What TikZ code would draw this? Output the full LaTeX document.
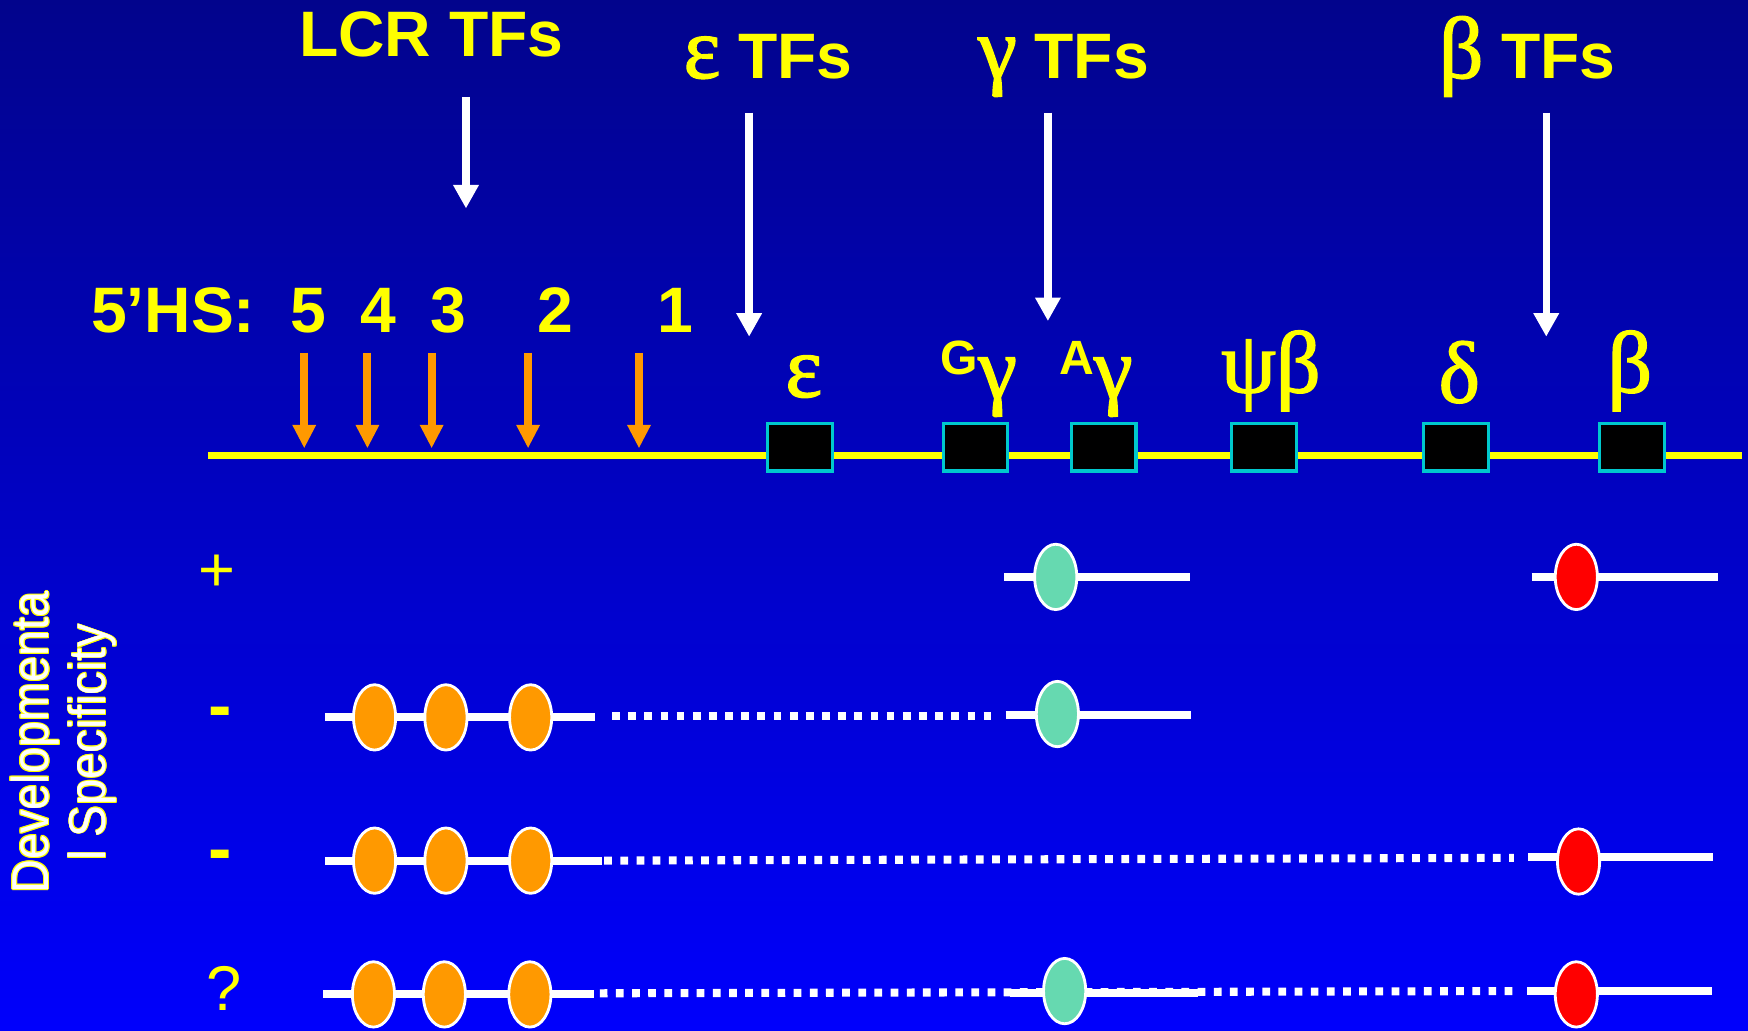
\documentclass[tikz,border=0pt]{standalone}
\usepackage{fontspec}
\setmainfont{Liberation Sans}
\newfontfamily\greekfont[FakeBold=1.6]{Liberation Serif}
\usetikzlibrary{arrows.meta,shapes.geometric}

\definecolor{bgtop}{RGB}{2,4,140}
\definecolor{bgmid}{RGB}{0,0,214}
\definecolor{bgbot}{RGB}{0,0,252}
\definecolor{hsorange}{RGB}{255,153,0}
\definecolor{gteal}{RGB}{102,217,176}
\definecolor{boxcyan}{RGB}{0,200,205}
\definecolor{lblyellow}{RGB}{255,255,0}

% Greek letters for gene names
\newcommand{\gk}[1]{{\greekfont\mdseries\fontsize{25}{30}\selectfont #1}}
% raised prefix letter of the gamma genes
\newcommand{\isoform}[1]{\raisebox{6.7pt}{\fontsize{13.7}{16}\selectfont\rmfamily\bfseries #1}}

\tikzset{
  head/.style={font=\fontsize{18.3}{22}\selectfont\bfseries, text=lblyellow, inner sep=0pt, anchor=base},
  genelbl/.style={font=\fontsize{18.3}{22}\selectfont, text=lblyellow, inner sep=0pt, anchor=base},
  tfarrow/.style={draw=white, line width=2.1pt, -{Triangle[width=6.9pt,length=6.7pt]}},
  hsarrow/.style={draw=hsorange, line width=2.3pt, -{Triangle[width=6.3pt,length=6.7pt]}},
  locus/.style={draw=lblyellow, line width=2.2pt},
  genebox/.style={rectangle, draw=boxcyan, fill=black, line width=0.9pt,
    minimum width=18.4pt, minimum height=13.6pt, inner sep=0pt},
  bind/.style={ellipse, draw=white, line width=0.8pt, minimum width=12pt,
    minimum height=18.6pt, inner sep=0pt},
  lcrsite/.style={bind, fill=hsorange},
  gsite/.style={bind, fill=gteal},
  bsite/.style={bind, fill=red},
  solidseg/.style={draw=white, line width=2.3pt},
  gapseg/.style={draw=white, line width=2.3pt, dash pattern=on 2.2pt off 2.4pt},
  rowmark/.style={text=lblyellow, font=\fontsize{18}{22}\selectfont, inner sep=0pt, anchor=base},
  devlbl/.style={font=\fontsize{14.8}{18}\selectfont, inner sep=0pt, anchor=base, rotate=90},
}

\begin{document}
\begin{tikzpicture}[x=0.011148cm, y=-0.011148cm]
  % backdrop
  \useasboundingbox (0,0) rectangle (1568,924);
  \shade[top color=bgtop, middle color=bgmid, bottom color=bgbot] (0,0) rectangle (1568,924);

  % headings
  \node[head] (lcrtf) at (387,51) {LCR TFs};
  \node[head] (etf) at (689,70) {\gk{ε} TFs};
  \node[head] (gtf) at (954,70) {\gk{γ} TFs};
  \node[head] (btf) at (1370,70) {\gk{β} TFs};

  % transcription factor arrows
  \coordinate (lcrA) at (418,87);   \coordinate (lcrB) at (418,187);
  \coordinate (eA) at (672,101);    \coordinate (eB) at (672,302);
  \coordinate (gA) at (940,101);    \coordinate (gB) at (940,288);
  \coordinate (bA) at (1387,101);   \coordinate (bB) at (1387,302);
  \draw[tfarrow] (lcrA) -- (lcrB);
  \draw[tfarrow] (eA) -- (eB);
  \draw[tfarrow] (gA) -- (gB);
  \draw[tfarrow] (bA) -- (bB);

  % hypersensitive sites
  \node[head, anchor=base west] (hs) at (81,298) {5’HS:};
  \foreach \n/\x/\ax in {5/277/272.9, 4/339/329.6, 3/402/387.2, 2/498/473.7, 1/606/573.2}{
    \node[head] (hs\n) at (\x,298) {\n};
    \coordinate (hsA\n) at (\ax,316.4);
    \coordinate (hsB\n) at (\ax,402.2);
    \draw[hsarrow] (hsA\n) -- (hsB\n);
  }

  % locus line and genes
  \coordinate (locL) at (186.4,408.6);
  \coordinate (locR) at (1563,408.6);
  \draw[locus] (locL) -- (locR);
  \node[genebox] (geps) at (717.6,401) {};
  \node[genebox] (gGg) at (875,401) {};
  \node[genebox] (gAg) at (990,401) {};
  \node[genebox] (gpsi) at (1134,401) {};
  \node[genebox] (gdel) at (1306,401) {};
  \node[genebox] (gbet) at (1464,401) {};

  \node[genelbl] (leps) at (721,356) {\gk{ε}};
  \node[genelbl] (lGg) at (878,357) {\isoform{G}\gk{γ}};
  \node[genelbl] (lAg) at (983,357) {\isoform{A}\gk{γ}};
  \node[genelbl] (lpsi) at (1140,352) {\gk{ψβ}};
  \node[genelbl] (ldel) at (1309,361) {\gk{δ}};
  \node[genelbl] (lbet) at (1462,352) {\gk{β}};

  % side label: white lettering with a thin yellow rim
  \foreach \dx/\dy in {0.22/0, -0.22/0, 0/0.22, 0/-0.22, 0.16/0.16, -0.16/0.16, 0.16/-0.16, -0.16/-0.16}{
    \node[devlbl, text=lblyellow, xshift=\dx pt, yshift=\dy pt] at (43.5,666) {\scalebox{0.9}[1]{Developmenta}};
    \node[devlbl, text=lblyellow, xshift=\dx pt, yshift=\dy pt] at (95,666) {\scalebox{0.91}[1]{l Specificity}};
  }
  \node[devlbl, text=white] (dev1) at (43.5,666) {\scalebox{0.9}[1]{Developmenta}};
  \node[devlbl, text=white] (dev2) at (95,666) {\scalebox{0.91}[1]{l Specificity}};

  % row 1: +
  \node[rowmark] (m1) at (195,531) {+};
  \coordinate (r1a) at (900.6,517.5); \coordinate (r1b) at (1067,517.5);
  \coordinate (r1c) at (1374,517.5);  \coordinate (r1d) at (1541,517.5);
  \draw[solidseg] (r1a) -- (r1b);
  \draw[solidseg] (r1c) -- (r1d);
  \node[gsite] (r1g) at (947,517.5) {};
  \node[bsite] (r1r) at (1414,517.5) {};

  % row 2: -
  \node[rowmark, font=\fontsize{20}{24}\selectfont\bfseries] (m2) at (197.6,654) {-};
  \coordinate (r2a) at (291.5,643); \coordinate (r2b) at (534,643);
  \coordinate (r2c) at (549,642);   \coordinate (r2d) at (895,642);
  \coordinate (r2e) at (902,641);   \coordinate (r2f) at (1068,641);
  \draw[solidseg] (r2a) -- (r2b);
  \draw[gapseg] (r2c) -- (r2d);
  \draw[solidseg] (r2e) -- (r2f);
  \node[lcrsite] (r2o1) at (336,643.5) {};
  \node[lcrsite] (r2o2) at (400,643.5) {};
  \node[lcrsite] (r2o3) at (476,643.5) {};
  \node[gsite] (r2g) at (948.5,640.5) {};

  % row 3: -
  \node[rowmark, font=\fontsize{20}{24}\selectfont\bfseries] (m3) at (197.6,783) {-};
  \coordinate (r3a) at (291.5,772); \coordinate (r3b) at (540,772);
  \coordinate (r3c) at (542,772);   \coordinate (r3d) at (1358,769.5);
  \coordinate (r3e) at (1371,769);  \coordinate (r3f) at (1537,769);
  \draw[solidseg] (r3a) -- (r3b);
  \draw[gapseg] (r3c) -- (r3d);
  \draw[solidseg] (r3e) -- (r3f);
  \node[lcrsite] (r3o1) at (336,772) {};
  \node[lcrsite] (r3o2) at (400,772) {};
  \node[lcrsite] (r3o3) at (476,772) {};
  \node[bsite] (r3r) at (1416,772.8) {};

  % row 4: ?
  \node[rowmark] (m4) at (201,906) {?};
  \coordinate (r4a) at (290,892);   \coordinate (r4b) at (533,892);
  \coordinate (r4c) at (538,891);   \coordinate (r4d) at (1357,889);
  \coordinate (r4e) at (906,890.5); \coordinate (r4f) at (1075,890.5);
  \coordinate (r4g) at (1370,889);  \coordinate (r4h) at (1536,889);
  \draw[solidseg] (r4a) -- (r4b);
  \draw[gapseg] (r4c) -- (r4d);
  \draw[solidseg] (r4e) -- (r4f);
  \draw[solidseg] (r4g) -- (r4h);
  \node[lcrsite] (r4o1) at (335,892) {};
  \node[lcrsite] (r4o2) at (398.6,892) {};
  \node[lcrsite] (r4o3) at (475.3,892) {};
  \node[gsite] (r4g1) at (955,889) {};
  \node[bsite] (r4r) at (1414,892) {};
\end{tikzpicture}
\end{document}
